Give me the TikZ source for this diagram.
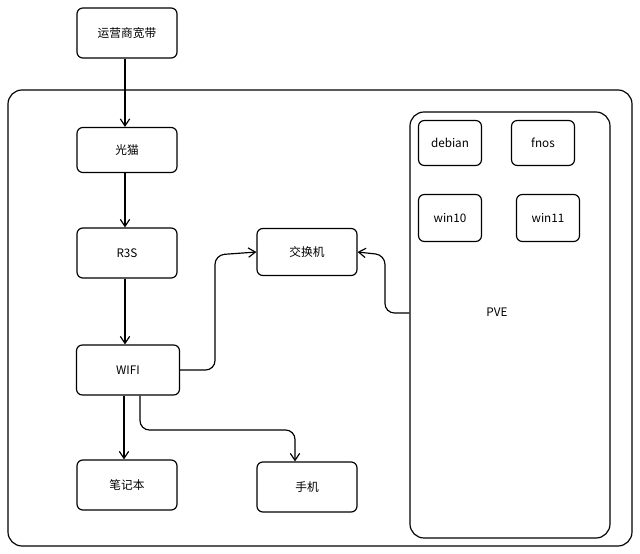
\documentclass[tikz,border=0pt]{standalone}
\usepackage{fontspec}
\setmainfont{Noto Sans CJK SC}
\usetikzlibrary{arrows.meta}
\begin{document}
\begin{tikzpicture}[x=0.03cm,y=-0.03cm,
  box/.style={draw,line width=1pt,rounded corners=5pt,inner sep=0pt,font=\normalsize},
  arr/.style={draw,line width=1pt,-{Straight Barb[length=6pt,width=8pt]},rounded corners=8pt}]
\useasboundingbox (0,0) rectangle (640,553);
\node[box,minimum width=3cm,minimum height=1.5cm] (isp) at (127,33) {运营商宽带};
\draw[line width=1pt,rounded corners=12pt] (8,90) rectangle (632,546);
\node[box,minimum width=3cm,minimum height=1.35cm] (cat) at (127,150) {光猫};
\node[box,minimum width=3cm,minimum height=1.5cm] (r3s) at (127,253) {R3S};
\node[box,minimum width=3.09cm,minimum height=1.5cm] (wifi) at (128,370) {WIFI};
\node[box,minimum width=3cm,minimum height=1.5cm] (nb) at (127,485) {笔记本};
\node[box,minimum width=3cm,minimum height=1.5cm] (ph) at (307,487) {手机};
\node[box,minimum width=3cm,minimum height=1.41cm] (sw) at (307,252) {交换机};
\node[box,rounded corners=12pt,minimum width=6cm,minimum height=12.78cm] (pve) at (510,325) {};
\node[font=\normalsize] at (497,312) {PVE};
\node[box,minimum width=1.89cm,minimum height=1.35cm] (deb) at (450,143) {debian};
\node[box,minimum width=1.89cm,minimum height=1.35cm] (fn) at (543,143) {fnos};
\node[box,minimum width=1.89cm,minimum height=1.41cm] (w10) at (450,218) {win10};
\node[box,minimum width=1.89cm,minimum height=1.41cm] (w11) at (548,218) {win11};
\draw[arr] (isp.south -| 125,0) -- (cat.north -| 125,0);
\draw[arr] (cat.south -| 125,0) -- (r3s.north -| 125,0);
\draw[arr] (r3s.south -| 125,0) -- (wifi.north -| 125,0);
\draw[arr] (wifi.south -| 124,0) -- (nb.north -| 124,0);
\draw[arr] (wifi.south -| 140,0) -- (140,430) -- (295,430) -- (ph.north -| 295,0);
\draw[arr] (wifi.east) -- (215,370) -- (215,255) -- (sw.west);
\draw[arr] (pve.west |- 0,313) -- (385,313) -- (385,255) -- (sw.east);
\end{tikzpicture}
\end{document}
